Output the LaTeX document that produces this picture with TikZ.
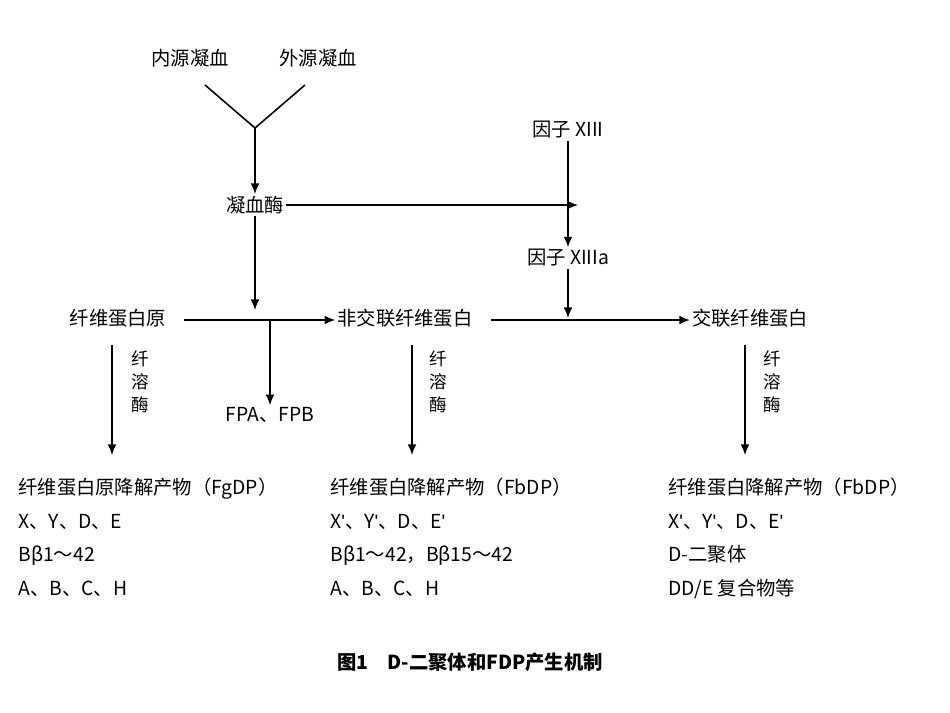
\documentclass[tikz,border=0pt]{standalone}
\usepackage{fontspec}
\setmainfont{Noto Sans CJK SC}
\newfontfamily\latf{Liberation Sans}
\newcommand{\apos}{{\latf '}}
\usetikzlibrary{arrows.meta,positioning}
\tikzset{
  lbl/.style={inner sep=1pt, font=\fontsize{11}{13}\selectfont},
  blk/.style={inner sep=0pt, anchor=north west, align=left, font=\fontsize{11}{19}\selectfont},
  arr/.style={-{Latex[length=6pt,width=5pt]}, line width=0.9pt},
  ln/.style={line width=0.9pt},
}
\begin{document}
\begin{tikzpicture}[x=0.02cm,y=-0.02cm]
  \useasboundingbox (0,0) rectangle (950,713);
  % top inputs
  \node[lbl] (intr) at (190,58) {内源凝血};
  \node[lbl] (extr) at (318,58) {外源凝血};
  \coordinate (join) at (255,128);
  \node[lbl] (thr) at (255,205) {凝血酶};
  \node[lbl] (f13) at (568,130) {因子 XIII};
  \node[lbl] (f13a) at (568,258) {因子 XIIIa};
  \node[lbl] (fbg) at (118,318) {纤维蛋白原};
  \node[lbl] (fbn) at (405,318) {非交联纤维蛋白};
  \node[lbl] (xfbn) at (750,318) {交联纤维蛋白};
  \node[lbl] (fpab) at (270,415) {FPA、FPB};
  % degradation products
  \node[blk] (fgdp) at (18,478) {纤维蛋白原降解产物（FgDP）\\X、Y、D、E\\Bβ1～42\\A、B、C、H};
  \node[blk] (fbdp) at (330,478) {纤维蛋白降解产物（FbDP）\\X\apos、Y\apos、D、E\apos\\Bβ1～42，Bβ15～42\\A、B、C、H};
  \node[blk] (xfbdp) at (668,478) {纤维蛋白降解产物（FbDP）\\X\apos、Y\apos、D、E\apos\\D-二聚体\\DD/E 复合物等};
  % enzyme labels
  \node[lbl, align=center, font=\fontsize{10}{13}\selectfont] (pl1) at (140,382) {纤\\溶\\酶};
  \node[lbl, align=center, font=\fontsize{10}{13}\selectfont] (pl2) at (438,382) {纤\\溶\\酶};
  \node[lbl, align=center, font=\fontsize{10}{13}\selectfont] (pl3) at (772,382) {纤\\溶\\酶};
  % connectors
  \draw[ln] (205,85) -- (join) -- (305,85);
  \draw[arr] (join) -- (thr.north);
  \draw[arr] (thr.east) -- (578,205);
  \draw[arr] (f13.south) -- (f13a.north);
  \draw[arr] (thr.south) -- (255,310);
  \draw[arr] (fbg.east) ++(16,2) -- (fbn.west |- 0,320);
  \draw[arr] (270,320) -- (fpab.north);
  \draw[arr] (fbn.east) ++(16,2) -- (xfbn.west |- 0,320);
  \draw[arr] (f13a.south) -- (568,318);
  \draw[arr] (112,345) -- (112,455);
  \draw[arr] (412,345) -- (412,455);
  \draw[arr] (745,345) -- (745,455);
  % caption
  \node[lbl, font=\bfseries\fontsize{11}{13}\selectfont] (cap) at (470,662) {图1\quad D-二聚体和FDP产生机制};
\end{tikzpicture}
\end{document}
